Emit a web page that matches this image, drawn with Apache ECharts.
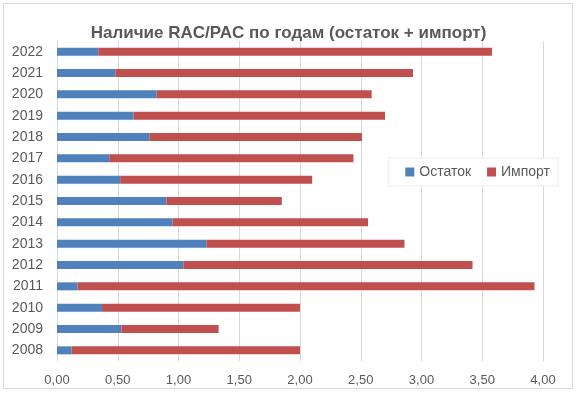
<!DOCTYPE html>
<html><head><meta charset="utf-8">
<script src="https://cdn.jsdelivr.net/npm/echarts@6/dist/echarts.min.js"></script>
<style>html,body{margin:0;padding:0;background:#fff}#c{width:577px;height:393px}</style>
</head><body><div id="c"></div>
<script>
const years = ['2008','2009','2010','2011','2012','2013','2014','2015','2016','2017','2018','2019','2020','2021','2022'];
const ostatok = [0.12,0.53,0.37,0.17,1.04,1.23,0.95,0.90,0.52,0.43,0.76,0.63,0.82,0.48,0.34];
const importVals = [1.88,0.80,1.63,3.76,2.38,1.63,1.61,0.95,1.58,2.01,1.75,2.07,1.77,2.45,3.24];
const xTicks = {min:0, max:4, interval:0.5};

const chart = echarts.init(document.getElementById('c'), null, {renderer:'canvas'});
const font = 'Liberation Sans';
chart.setOption({
  backgroundColor:'#fff',
  animation:false,
  title:{text:'Наличие RAC/PAC по годам (остаток + импорт)', left:'center', top:20,
    textStyle:{fontFamily:font, fontSize:17, fontWeight:'bold', color:'#595959'}},
  graphic:[{type:'rect', shape:{x:3.5,y:3.5,width:569,height:385}, style:{fill:'none', stroke:'#d9d9d9', lineWidth:1}, z:-1}],
  legend:{right:19, top:158, orient:'horizontal', itemWidth:9, itemHeight:9, itemGap:16,
    backgroundColor:'#fff', borderColor:'#ececec', borderWidth:1, padding:[7,8,7,17],
    icon:'rect', textStyle:{fontFamily:font, fontSize:14, color:'#595959'},
    data:['Остаток','Импорт']},
  grid:{left:57, right:34, top:41, bottom:32},
  xAxis:{type:'value', min:xTicks.min, max:xTicks.max, interval:xTicks.interval,
    axisLine:{show:false}, axisTick:{show:false},
    axisLabel:{fontFamily:font, fontSize:13, color:'#595959', margin:13,
      formatter:v=>v.toFixed(2).replace('.',',')},
    splitLine:{lineStyle:{color:'#d9d9d9', width:1}}},
  yAxis:{type:'category', data:years,
    axisLine:{lineStyle:{color:'#d9d9d9'}}, axisTick:{show:false},
    axisLabel:{fontFamily:font, fontSize:14, color:'#595959', margin:14}},
  series:[
    {name:'Остаток', type:'bar', stack:'t', data:ostatok, barWidth:8, itemStyle:{color:'#4f81bd'}},
    {name:'Импорт', type:'bar', stack:'t', data:importVals, barWidth:8, itemStyle:{color:'#c0504d'}}
  ]
});
</script></body></html>
